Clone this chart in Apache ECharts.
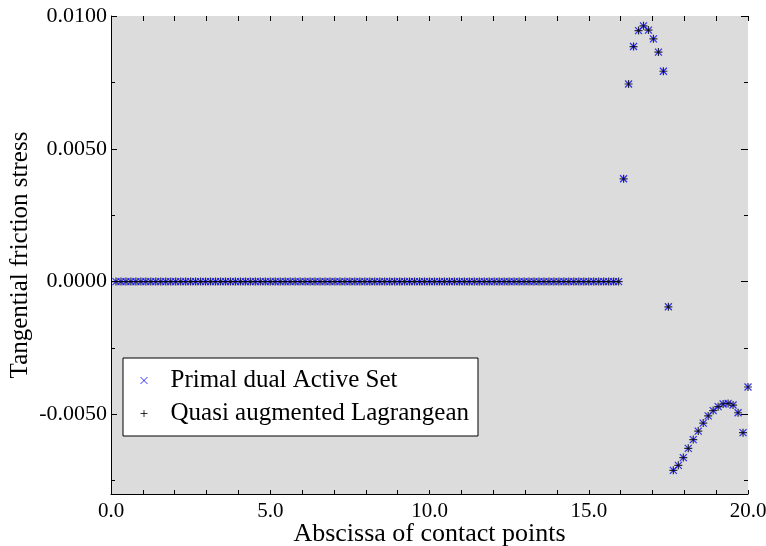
<!DOCTYPE html>
<html>
<head>
<meta charset="utf-8">
<script src="https://cdn.jsdelivr.net/npm/echarts@6/dist/echarts.min.js"></script>
<style>
html, body { margin: 0; padding: 0; background: #fff; }
#chart { width: 766px; height: 546px; }
</style>
</head>
<body>
<div id="chart"></div>
<script>
// abscissa of the contact points
var xs = [
  0.156, 0.313, 0.469, 0.625, 0.781, 0.938, 1.094, 1.25, 1.406, 1.563,
  1.719, 1.875, 2.031, 2.188, 2.344, 2.5, 2.656, 2.813, 2.969, 3.125,
  3.281, 3.438, 3.594, 3.75, 3.906, 4.063, 4.219, 4.375, 4.531, 4.688,
  4.844, 5.0, 5.156, 5.313, 5.469, 5.625, 5.781, 5.938, 6.094, 6.25,
  6.406, 6.563, 6.719, 6.875, 7.031, 7.188, 7.344, 7.5, 7.656, 7.813,
  7.969, 8.125, 8.281, 8.438, 8.594, 8.75, 8.906, 9.063, 9.219, 9.375,
  9.531, 9.688, 9.844, 10.0, 10.156, 10.313, 10.469, 10.625, 10.781, 10.938,
  11.094, 11.25, 11.406, 11.563, 11.719, 11.875, 12.031, 12.188, 12.344, 12.5,
  12.656, 12.813, 12.969, 13.125, 13.281, 13.438, 13.594, 13.75, 13.906, 14.063,
  14.219, 14.375, 14.531, 14.688, 14.844, 15.0, 15.156, 15.313, 15.469, 15.625,
  15.781, 15.938, 16.094, 16.25, 16.406, 16.563, 16.719, 16.875, 17.031, 17.188,
  17.344, 17.5, 17.656, 17.813, 17.969, 18.125, 18.281, 18.438, 18.594, 18.75,
  18.906, 19.063, 19.219, 19.375, 19.531, 19.688, 19.844, 20.0
]
// tangential friction stress, primal dual active set
var pdas = [
  0, 0, 0, 0, 0, 0, 0, 0, 0, 0,
  0, 0, 0, 0, 0, 0, 0, 0, 0, 0,
  0, 0, 0, 0, 0, 0, 0, 0, 0, 0,
  0, 0, 0, 0, 0, 0, 0, 0, 0, 0,
  0, 0, 0, 0, 0, 0, 0, 0, 0, 0,
  0, 0, 0, 0, 0, 0, 0, 0, 0, 0,
  0, 0, 0, 0, 0, 0, 0, 0, 0, 0,
  0, 0, 0, 0, 0, 0, 0, 0, 0, 0,
  0, 0, 0, 0, 0, 0, 0, 0, 0, 0,
  0, 0, 0, 0, 0, 0, 0, 0, 0, 0,
  0, 0, 0.00387, 0.00744, 0.00885, 0.00945, 0.00963, 0.00947, 0.00914, 0.00864,
  0.00792, -0.00095, -0.00711, -0.00692, -0.00663, -0.00628, -0.00595, -0.00563, -0.00533, -0.00506,
  -0.00486, -0.00471, -0.00461, -0.00459, -0.00465, -0.00494, -0.00569, -0.00397
]
// tangential friction stress, quasi augmented lagrangean (same to plotting precision)
var qal = [
  0, 0, 0, 0, 0, 0, 0, 0, 0, 0,
  0, 0, 0, 0, 0, 0, 0, 0, 0, 0,
  0, 0, 0, 0, 0, 0, 0, 0, 0, 0,
  0, 0, 0, 0, 0, 0, 0, 0, 0, 0,
  0, 0, 0, 0, 0, 0, 0, 0, 0, 0,
  0, 0, 0, 0, 0, 0, 0, 0, 0, 0,
  0, 0, 0, 0, 0, 0, 0, 0, 0, 0,
  0, 0, 0, 0, 0, 0, 0, 0, 0, 0,
  0, 0, 0, 0, 0, 0, 0, 0, 0, 0,
  0, 0, 0, 0, 0, 0, 0, 0, 0, 0,
  0, 0, 0.00387, 0.00744, 0.00885, 0.00945, 0.00963, 0.00947, 0.00914, 0.00864,
  0.00792, -0.00095, -0.00711, -0.00692, -0.00663, -0.00628, -0.00595, -0.00563, -0.00533, -0.00506,
  -0.00486, -0.00471, -0.00461, -0.00459, -0.00465, -0.00494, -0.00569, -0.00397
]
var xLabels = [0, 5, 10, 15, 20]
var yLabels = [-0.005, 0, 0.005, 0.01]
var yMinor = [-0.0075, -0.0025, 0.0025, 0.0075]

var serif = 'Liberation Serif'
var crossPath = 'path://M0,0L10,10M10,0L0,10'
var plusPath = 'path://M5,0L5,10M0,5L10,5'

function pairs(ys) {
  return xs.map(function (x, i) { return [x, ys[i]] })
}

var chart = echarts.init(document.getElementById('chart'))
var option = {
  animation: false,
  backgroundColor: '#fff',
  grid: {
    left: 111, right: 18, top: 16, bottom: 52,
    outerBoundsMode: 'none',
    show: true, backgroundColor: '#dcdcdc', borderWidth: 0
  },
  legend: {
    orient: 'vertical',
    left: 123, top: 358,
    backgroundColor: '#fff',
    borderColor: '#000',
    borderWidth: 1,
    padding: [10, 9, 10, 17],
    itemGap: 8,
    itemWidth: 7,
    itemHeight: 7,
    textStyle: { fontFamily: serif, fontSize: 25, color: '#000', padding: [0, 0, 0, 18] },
    data: [
      { name: 'Primal dual Active Set', icon: crossPath,
        itemStyle: { color: 'transparent', borderColor: '#0000ff', borderWidth: 1 } },
      { name: 'Quasi augmented Lagrangean', icon: plusPath,
        itemStyle: { color: 'transparent', borderColor: '#000', borderWidth: 1 } }
    ]
  },
  xAxis: [{
    type: 'value', min: 0, max: 20, interval: 1,
    name: 'Abscissa of contact points',
    nameLocation: 'middle', nameGap: 27, nameMoveOverlap: false,
    nameTextStyle: { fontFamily: serif, fontSize: 26, color: '#000' },
    axisLine: { show: true, onZero: false, lineStyle: { color: '#000', width: 1 } },
    axisTick: { inside: true, length: 4, lineStyle: { color: '#000' } },
    axisLabel: {
      customValues: xLabels, margin: 7,
      fontFamily: serif, fontSize: 21, color: '#000',
      formatter: function (v) { return v.toFixed(1) }
    },
    splitLine: { show: false }
  }, {
    type: 'value', min: 0, max: 20, interval: 1, position: 'top',
    axisLine: { show: false, onZero: false },
    axisTick: { show: true, inside: true, length: 5, lineStyle: { color: '#000' } },
    axisLabel: { show: false },
    splitLine: { show: false }
  }],
  yAxis: [{
    type: 'value', min: -0.008, max: 0.01,
    name: 'Tangential friction stress',
    nameLocation: 'middle', nameGap: 78, nameMoveOverlap: false,
    nameTextStyle: { fontFamily: serif, fontSize: 25, color: '#000' },
    axisLine: { show: true, onZero: false, lineStyle: { color: '#000', width: 1 } },
    axisTick: { inside: true, length: 6, customValues: yLabels, lineStyle: { color: '#000' } },
    axisLabel: {
      customValues: yLabels, margin: 4,
      fontFamily: serif, fontSize: 22, color: '#000',
      formatter: function (v) { return v.toFixed(4) }
    },
    splitLine: { show: false }
  }, {
    type: 'value', min: -0.008, max: 0.01, position: 'left',
    axisLine: { show: false, onZero: false },
    axisTick: { show: true, inside: true, length: 4, customValues: yMinor, lineStyle: { color: '#000' } },
    axisLabel: { show: false },
    splitLine: { show: false }
  }, {
    type: 'value', min: -0.008, max: 0.01, position: 'right',
    axisLine: { show: false, onZero: false },
    axisTick: { show: true, inside: true, length: 7, customValues: yLabels, lineStyle: { color: '#000' } },
    axisLabel: { show: false },
    splitLine: { show: false }
  }, {
    type: 'value', min: -0.008, max: 0.01, position: 'right',
    axisLine: { show: false, onZero: false },
    axisTick: { show: true, inside: true, length: 4, customValues: yMinor, lineStyle: { color: '#000' } },
    axisLabel: { show: false },
    splitLine: { show: false }
  }],
  series: [{
    name: 'Primal dual Active Set',
    type: 'scatter',
    symbol: crossPath,
    symbolSize: 7,
    itemStyle: { color: 'transparent', borderColor: '#0000ff', borderWidth: 1.2 },
    data: pairs(pdas)
  }, {
    name: 'Quasi augmented Lagrangean',
    type: 'scatter',
    symbol: plusPath,
    symbolSize: 8,
    itemStyle: { color: 'transparent', borderColor: '#000', borderWidth: 1.2 },
    data: pairs(qal)
  }]
}
chart.setOption(option)
</script>
</body>
</html>
